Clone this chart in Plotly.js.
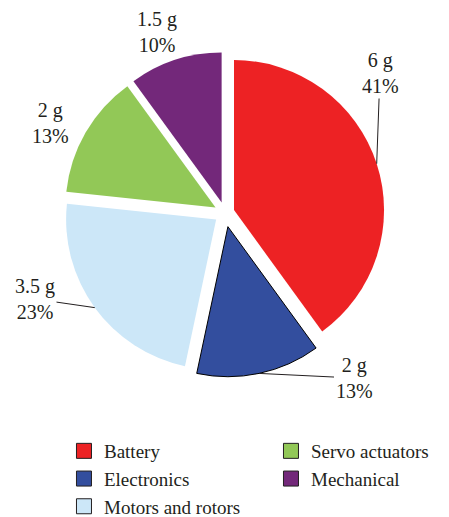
<!DOCTYPE html>
<html>
<head>
<meta charset="utf-8">
<script src="https://cdn.plot.ly/plotly-3.0.1.min.js"></script>
<style>html,body{margin:0;padding:0;background:#fff;}#chart{width:449px;height:517px;}</style>
</head>
<body>
<div id="chart"></div>
<script>
// ---- data ----
const categories = ["Battery", "Electronics", "Motors and rotors", "Servo actuators", "Mechanical"];
const massGrams = [6, 2, 3.5, 2, 1.5];
const massLabels = ["6 g", "2 g", "3.5 g", "2 g", "1.5 g"];
const percentLabels = ["41%", "13%", "23%", "13%", "10%"];
const legendOrder = [1, 3, 5, 2, 4];

// ---- styles ----
const colors = ["#ED2224", "#334E9E", "#CCE7F8", "#92C857", "#73287A"];
const pulls = [0.063, 0.093, 0.073, 0.073, 0.073];
const lineWidths = [0, 1, 0, 0, 0];
const W = 449, H = 517;
const dom = {x: [0.1359, 0.8664], y: [0.2708, 0.9052]};
const FONT = "Liberation Serif";
const TXT = "#231F20";
const labelPos = [[380, 73], [354, 378], [35, 299], [50, 123], [157, 32]];
const useLine = [true, true, true, false, false];

const traces = [{
  type: "pie",
  labels: categories,
  values: massGrams,
  sort: false,
  direction: "clockwise",
  rotation: 0,
  pull: pulls,
  textinfo: "none",
  hoverinfo: "label+value+percent",
  marker: {colors: colors, line: {color: "#000", width: lineWidths}},
  domain: dom,
  showlegend: false
}];

categories.forEach((c, i) => {
  traces.push({
    type: "scatter", mode: "markers", x: [null], y: [null], name: c,
    legendrank: legendOrder[i],
    marker: {symbol: "square", size: 15, color: colors[i], line: {color: "#231F20", width: 1}},
    hoverinfo: "skip"
  });
});

const layout = {
  width: W, height: H,
  margin: {l: 0, r: 0, t: 0, b: 0, autoexpand: false},
  paper_bgcolor: "#fff", plot_bgcolor: "#fff",
  xaxis: {visible: false}, yaxis: {visible: false},
  showlegend: true,
  legend: {
    orientation: "h", x: 0.1425, y: 0.1644, xanchor: "left", yanchor: "top",
    entrywidth: 162, entrywidthmode: "pixels",
    font: {family: FONT, size: 19, color: TXT},
    tracegroupgap: 0, itemclick: false
  }
};

function buildAnnotations(gd) {
  const cd0 = gd.calcdata[0][0];
  const R = cd0.r, cx = cd0.cx, cy = cd0.cy;
  const total = massGrams.reduce((a, b) => a + b, 0);
  const anns = [];
  let cum = 0;
  massGrams.forEach((v, i) => {
    const mid = (cum + v / 2) / total * 2 * Math.PI;
    cum += v;
    const ex = cx + R * (1 + pulls[i]) * Math.sin(mid);
    const ey = cy - R * (1 + pulls[i]) * Math.cos(mid);
    const text = massLabels[i] + "<br>" + percentLabels[i];
    const font = {family: FONT, size: 20, color: TXT};
    if (useLine[i]) {
      anns.push({
        xref: "paper", yref: "paper", x: ex / W, y: 1 - ey / H,
        ax: labelPos[i][0] - ex, ay: labelPos[i][1] - ey,
        text: text, font: font, showarrow: true, arrowhead: 0, arrowwidth: 1,
        arrowcolor: TXT, standoff: 0, borderpad: 1, align: "center"
      });
    } else {
      anns.push({
        xref: "paper", yref: "paper", x: labelPos[i][0] / W, y: 1 - labelPos[i][1] / H,
        xanchor: "center", yanchor: "middle",
        text: text, font: font, showarrow: false, align: "center"
      });
    }
  });
  return anns;
}

Plotly.newPlot("chart", traces, layout, {displayModeBar: false, staticPlot: true}).then(gd => {
  return Plotly.relayout(gd, {annotations: buildAnnotations(gd)});
});
</script>
</body>
</html>
